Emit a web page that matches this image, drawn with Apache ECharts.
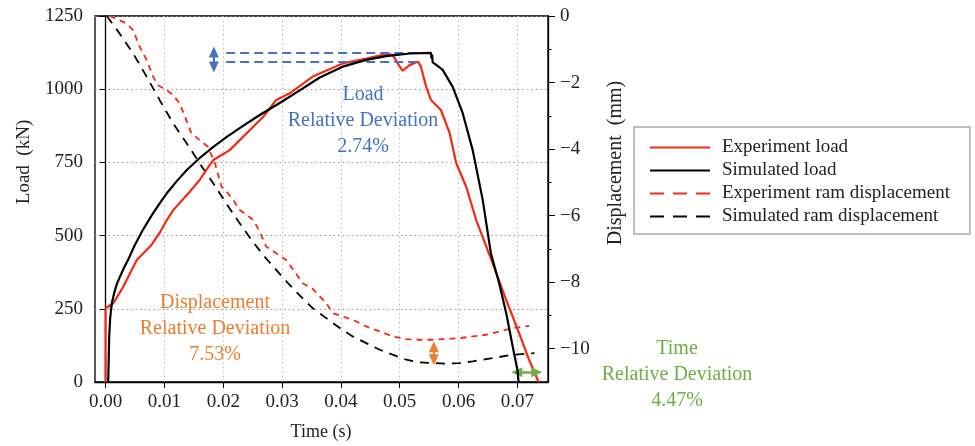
<!DOCTYPE html>
<html><head><meta charset="utf-8">
<script src="https://cdn.jsdelivr.net/npm/echarts@6/dist/echarts.min.js"></script>
<style>html,body{margin:0;padding:0;background:#fff}#c{width:975px;height:446px}</style>
</head><body><div id="c"></div>
<script>
// ---- data ----
const expLoadT = [0.0000,0.0000,0.0013,0.0030,0.0053,0.0078,0.0092,0.0104,0.0115,0.0143,0.0160,0.0171,0.0183,0.0211,0.0228,0.0251,0.0268,0.0290,0.0313,0.0352,0.0364,0.0403,0.0443,0.0477,0.0488,0.0500,0.0505,0.0517,0.0531,0.0536,0.0545,0.0553,0.0570,0.0585,0.0596,0.0613,0.0630,0.0658,0.0681,0.0703,0.0720,0.0736];
const expLoadV = [0,252,269,325,417,468,510,553,587,650,690,724,758,792,826,872,906,963,986,1043,1054,1088,1105,1120,1117,1077,1063,1083,1094,1077,1008,963,929,849,747,667,553,405,280,166,75,0];
const simLoadT = [0.00044,0.00053,0.00061,0.00078,0.00107,0.0015,0.00192,0.00243,0.0031,0.00396,0.00497,0.00633,0.00786,0.00922,0.01058,0.0121,0.0138,0.0160,0.0182,0.0206,0.0233,0.0262,0.0296,0.0330,0.0364,0.0403,0.0443,0.0477,0.0517,0.0553,0.0554,0.0555,0.0556,0.0562,0.0573,0.0590,0.0607,0.0624,0.0641,0.0655,0.0669,0.0681,0.0692,0.0700,0.0702];
const simLoadV = [0,75,154,219,270,307,335,359,389,423,468,519,570,611,649,686,724,765,801,837,874,912,953,996,1040,1077,1100,1113,1122,1124,1104,1118,1092,1083,1066,1008,918,792,622,439,337,235,121,41,0];
const expDispT = [0.0007,0.0024,0.0036,0.0047,0.0058,0.0070,0.0081,0.0089,0.0104,0.0115,0.0126,0.0135,0.0146,0.0160,0.0174,0.0186,0.0197,0.0208,0.0217,0.0228,0.0251,0.0262,0.0273,0.0290,0.0307,0.0319,0.0335,0.0352,0.0375,0.0386,0.0403,0.0420,0.0443,0.0466,0.0488,0.0511,0.0533,0.0556,0.0579,0.0602,0.0624,0.0647,0.0669,0.0692,0.0720];
const expDispV = [0.00,-0.13,-0.23,-0.43,-0.93,-1.33,-1.83,-2.08,-2.23,-2.38,-2.63,-3.03,-3.53,-3.73,-3.93,-4.43,-5.13,-5.33,-5.53,-5.83,-6.13,-6.48,-6.93,-7.13,-7.33,-7.63,-8.03,-8.20,-8.63,-8.93,-9.03,-9.13,-9.33,-9.48,-9.63,-9.71,-9.73,-9.73,-9.71,-9.68,-9.63,-9.58,-9.48,-9.38,-9.31];
const simDispT = [0.0002,0.0024,0.0047,0.0070,0.0092,0.0115,0.0138,0.0160,0.0183,0.0205,0.0228,0.0250,0.0270,0.0290,0.0310,0.0330,0.0352,0.0375,0.0398,0.0420,0.0443,0.0466,0.0488,0.0511,0.0533,0.0556,0.0579,0.0602,0.0624,0.0647,0.0669,0.0692,0.0729];
const simDispV = [0.00,-0.53,-1.13,-1.83,-2.53,-3.23,-3.83,-4.43,-5.03,-5.63,-6.23,-6.78,-7.23,-7.63,-8.03,-8.40,-8.78,-9.08,-9.38,-9.63,-9.83,-10.03,-10.18,-10.33,-10.41,-10.43,-10.45,-10.43,-10.38,-10.31,-10.25,-10.18,-10.13];
const xTicks = [0,0.01,0.02,0.03,0.04,0.05,0.06,0.07];
const dispTicks = [0,-2,-4,-6,-8,-10];
const dispMinorTicks = [-1,-3,-5,-7,-9];
const seriesNames = ['Experiment load','Simulated load','Experiment ram displacement','Simulated ram displacement'];
// annotation values (data units)
const loadLineTop = 1124, loadLineBot = 1093;
const loadArrowT = 0.0184, loadArrowTop = 1127, loadArrowBot = 1076;
const dispArrowT = 0.0558, dispArrowTop = -9.94, dispArrowBot = -10.33;
const timeArrowD = -10.71, timeArrowA = 0.0699, timeArrowB = 0.0733;

const zip = (t, v) => t.map((x, i) => [x, v[i]]);
const FONT = 'Liberation Serif';
const RED = '#f52a14';
const BLUE = '#4472c4', ORANGE = '#ed7d31', GREEN = '#70ad47';
const TXT = '#222';

const chart = echarts.init(document.getElementById('c'), null, {renderer: 'canvas'});
const labelStyle = {fontFamily: FONT, fontSize: 19, color: TXT};
const arrowML = (color, width, pair) => ({
  silent: true, symbol: ['triangle', 'triangle'], symbolSize: [10, 11], animation: false,
  label: {show: false}, lineStyle: {color: color, type: 'solid', width: width},
  emphasis: {disabled: true}, data: [pair]
});
const option = {
  animation: false,
  backgroundColor: '#fff',
  grid: {left: 95, right: 427, top: 16, bottom: 64, show: true, borderColor: '#000', borderWidth: 1.3, backgroundColor: 'transparent'},
  legend: {
    left: 634, top: 127, orient: 'vertical',
    data: [
      {name: seriesNames[0]},
      {name: seriesNames[1]},
      {name: seriesNames[2], lineStyle: {type: [14, 9]}},
      {name: seriesNames[3], lineStyle: {type: [14, 9]}}
    ],
    itemWidth: 60, itemHeight: 14, itemGap: 4,
    padding: [11, 20, 8, 15],
    borderColor: '#aaa', borderWidth: 1.5, borderRadius: 0,
    itemStyle: {opacity: 0},
    textStyle: {fontFamily: FONT, fontSize: 19, color: TXT, padding: [0, 0, 0, 7]}
  },
  xAxis: {
    type: 'value', min: -0.0018, max: 0.0752,
    axisLine: {lineStyle: {color: '#000', width: 1.3}},
    axisTick: {customValues: xTicks, length: 6, lineStyle: {color: '#000'}},
    axisLabel: {customValues: xTicks, margin: 11, formatter: v => v.toFixed(2), ...labelStyle},
    splitLine: {show: true, lineStyle: {color: '#bbb', type: [1.5, 3], width: 1}}
  },
  yAxis: [
    {
      type: 'value', min: 0, max: 1250, interval: 250, position: 'left',
      axisLine: {show: true, lineStyle: {color: '#000', width: 1.3}},
      axisTick: {show: true, length: 6, lineStyle: {color: '#000'}},
      axisLabel: {margin: 12, formatter: v => String(v), ...labelStyle},
      splitLine: {show: true, lineStyle: {color: '#999', type: [1.5, 3], width: 1}}
    },
    {
      type: 'value', min: -11, max: 0, position: 'right',
      axisLine: {show: true, lineStyle: {color: '#000', width: 1.3}},
      axisTick: {show: true, customValues: dispTicks, length: 7, lineStyle: {color: '#000'}},
      axisLabel: {customValues: dispTicks, margin: 12, formatter: v => String(v).replace('-', '\u2212'), ...labelStyle},
      splitLine: {show: false}
    },
    {
      type: 'value', min: -11, max: 0, position: 'right',
      axisLine: {show: false},
      axisTick: {show: true, customValues: dispMinorTicks, length: 3.5, lineStyle: {color: '#000'}},
      axisLabel: {show: false},
      splitLine: {show: false}
    }
  ],
  series: [
    {
      name: seriesNames[0], type: 'line', yAxisIndex: 0, showSymbol: false, symbol: 'none', z: 4,
      data: zip(expLoadT, expLoadV), lineStyle: {color: RED, width: 2.2}, itemStyle: {color: RED},
      markLine: {
        silent: true, symbol: ['none', 'none'], animation: false,
        label: {show: false}, emphasis: {disabled: true},
        lineStyle: {color: BLUE, type: [9, 5], width: 2.2},
        data: [
          [{coord: [0.0205, loadLineTop]}, {coord: [0.0556, loadLineTop]}],
          [{coord: [0.0205, loadLineBot]}, {coord: [0.0533, loadLineBot]}]
        ]
      }
    },
    {
      name: seriesNames[1], type: 'line', yAxisIndex: 0, showSymbol: false, symbol: 'none', z: 5,
      data: zip(simLoadT, simLoadV), lineStyle: {color: '#000', width: 2.2}, itemStyle: {color: '#000'},
      markLine: arrowML(BLUE, 2, [{coord: [loadArrowT, loadArrowTop]}, {coord: [loadArrowT, loadArrowBot]}])
    },
    {
      name: seriesNames[2], type: 'line', yAxisIndex: 1, showSymbol: false, symbol: 'none', z: 3,
      data: zip(expDispT, expDispV), lineStyle: {color: RED, width: 1.8, type: [6, 5]}, itemStyle: {color: RED},
      markLine: arrowML(ORANGE, 2, [{coord: [dispArrowT, dispArrowTop]}, {coord: [dispArrowT, dispArrowBot]}])
    },
    {
      name: seriesNames[3], type: 'line', yAxisIndex: 1, showSymbol: false, symbol: 'none', z: 3,
      data: zip(simDispT, simDispV), lineStyle: {color: '#000', width: 1.8, type: [9, 7]}, itemStyle: {color: '#000'},
      markLine: arrowML(GREEN, 2.5, [{coord: [timeArrowA, timeArrowD]}, {coord: [timeArrowB, timeArrowD]}])
    }
  ],
  graphic: [
    {type: 'text', x: 24, y: 162, rotation: Math.PI / 2, z: 10,
     style: {text: 'Load  (kN)', x: 0, y: 0, textAlign: 'center', textVerticalAlign: 'middle', font: '19px "Liberation Serif"', fill: TXT}},
    {type: 'text', x: 616, y: 163, rotation: Math.PI / 2, z: 10,
     style: {text: 'Displacement  (mm)', x: 0, y: 0, textAlign: 'center', textVerticalAlign: 'middle', font: '20px "Liberation Serif"', fill: TXT}},
    {type: 'text', z: 10,
     style: {text: 'Time (s)', x: 321, y: 432, textAlign: 'center', textVerticalAlign: 'middle', font: '18px "Liberation Serif"', fill: TXT}},
    {type: 'text', z: 10,
     style: {text: 'Load\nRelative Deviation\n2.74%', x: 363, y: 121, textAlign: 'center', textVerticalAlign: 'middle',
             font: '20px "Liberation Serif"', fill: BLUE, lineHeight: 26}},
    {type: 'text', z: 10,
     style: {text: 'Displacement\nRelative Deviation\n7.53%', x: 215, y: 329, textAlign: 'center', textVerticalAlign: 'middle',
             font: '20px "Liberation Serif"', fill: ORANGE, lineHeight: 26}},
    {type: 'text', z: 10,
     style: {text: 'Time\nRelative Deviation\n4.47%', x: 677, y: 375, textAlign: 'center', textVerticalAlign: 'middle',
             font: '20px "Liberation Serif"', fill: GREEN, lineHeight: 26}}
  ]
};
chart.setOption(option);
</script>
</body></html>
